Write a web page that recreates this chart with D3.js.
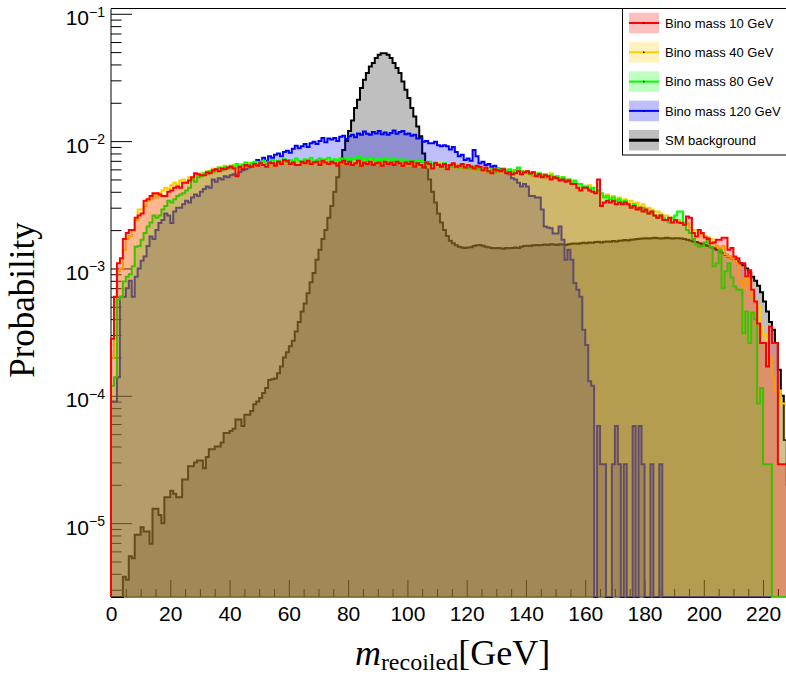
<!DOCTYPE html>
<html>
<head>
<meta charset="utf-8">
<script src="https://cdn.jsdelivr.net/npm/d3@7/dist/d3.min.js"></script>
<style>
  body { margin: 0; background: #fff; }
  svg { display: block; }
</style>
</head>
<body>
<div id="visualization"></div>
<script>
// 1 GeV bins, 0..230 GeV. Probabilities are given in units of 1e-3.
const binLow = 0, binWidth = 1, nBins = 230;

const smBackground = [
  0, 0, 0, 0, 0.0038, 0.0036, 0.0055, 0.0053, 0.0081, 0.0081,
  0.0093, 0.0086, 0.0086, 0.0069, 0.013, 0.013, 0.0116, 0.010, 0.016, 0.016,
  0.018, 0.017, 0.016, 0.016, 0.022, 0.022, 0.028, 0.028, 0.030, 0.031,
  0.031, 0.027, 0.033, 0.038, 0.038, 0.040, 0.040, 0.043, 0.051, 0.051,
  0.053, 0.055, 0.065, 0.065, 0.058, 0.071, 0.071, 0.076, 0.086, 0.090,
  0.096, 0.105, 0.115, 0.133, 0.135, 0.137, 0.15, 0.17, 0.20, 0.22,
  0.245, 0.27, 0.32, 0.38, 0.46, 0.53, 0.64, 0.78, 0.92, 1.17,
  1.4, 1.7, 2.0, 2.5, 3.1, 4.0, 5.2, 6.8, 8.5, 10.0,
  12.0, 14.5, 18.2, 21.1, 26.1, 30.3, 34.2, 38.6, 41.0, 44.9,
  47.7, 49.0, 49.0, 47.7, 44.9, 41.0, 37.5, 34.2, 29.4, 25.3,
  21.8, 18.2, 15.6, 13.0, 10.9, 8.0, 6.2, 5.0, 4.0, 3.3,
  2.7, 2.3, 2.0, 1.8, 1.65, 1.58, 1.52, 1.48, 1.46, 1.45,
  1.46, 1.47, 1.50, 1.52, 1.53, 1.51, 1.48, 1.47, 1.45, 1.44,
  1.45, 1.44, 1.43, 1.45, 1.44, 1.45, 1.46, 1.45, 1.48, 1.50,
  1.51, 1.50, 1.52, 1.53, 1.52, 1.53, 1.54, 1.53, 1.55, 1.54,
  1.53, 1.55, 1.54, 1.53, 1.55, 1.56, 1.57, 1.56, 1.58, 1.59,
  1.58, 1.60, 1.59, 1.61, 1.62, 1.60, 1.62, 1.63, 1.62, 1.64,
  1.63, 1.65, 1.66, 1.67, 1.66, 1.68, 1.69, 1.70, 1.71, 1.72,
  1.73, 1.72, 1.73, 1.74, 1.73, 1.72, 1.73, 1.74, 1.73, 1.72,
  1.73, 1.73, 1.72, 1.70, 1.68, 1.66, 1.63, 1.61, 1.58, 1.56,
  1.53, 1.50, 1.47, 1.44, 1.40, 1.36, 1.32, 1.28, 1.24, 1.20,
  1.17, 1.14, 1.10, 1.06, 1.00, 0.93, 0.86, 0.80, 0.73, 0.65,
  0.55, 0.46, 0.38, 0.33, 0.26, 0.16, 0.10, 0.045, 0.02, 0
];

const bino120 = [
  0.09, 0.09, 0.14, 0.60, 0.60, 0.70, 0.80, 0.60, 0.86, 1.0,
  1.15, 1.24, 1.5, 1.78, 1.7, 2.0, 2.27, 2.4, 2.7, 2.6,
  2.27, 2.8, 3.0, 3.0, 3.2, 3.4, 3.3, 3.6, 3.8, 3.7,
  4.0, 4.2, 4.4, 4.3, 5.0, 4.8, 5.1, 5.0, 5.3, 5.2,
  5.4, 5.5, 5.4, 5.7, 5.9, 6.0, 6.2, 6.4, 6.6, 7.1,
  6.9, 7.4, 7.0, 7.6, 7.4, 7.8, 8.0, 7.6, 8.2, 8.4,
  8.1, 8.7, 9.2, 8.8, 9.1, 9.5, 9.0, 9.6, 9.9, 9.5,
  10.0, 10.6, 9.8, 10.5, 10.3, 10.6, 10.0, 10.8, 11.0, 10.4,
  10.9, 11.2, 10.7, 11.5, 11.2, 11.9, 11.4, 11.2, 11.8, 11.5,
  12.0, 11.3, 11.7, 11.2, 11.6, 12.1, 11.4, 11.8, 12.0, 11.3,
  11.5, 11.0, 11.2, 10.5, 10.6, 9.9, 10.0, 9.6, 9.6, 9.9,
  9.3, 9.1, 9.3, 9.1, 8.6, 9.0, 8.2, 7.6, 7.8, 7.1,
  7.3, 7.0, 8.5, 7.6, 6.7, 6.9, 6.5, 6.6, 6.3, 6.4,
  6.1, 6.0, 5.9, 5.7, 5.5, 5.1, 5.0, 4.7, 4.4, 4.6,
  4.4, 3.7, 3.7, 3.6, 3.6, 2.9, 2.14, 2.1, 2.07, 1.88,
  1.88, 2.14, 1.68, 1.17, 1.4, 1.17, 0.77, 0.68, 0.60, 0.33,
  0.25, 0.13, 0.12, 0, 0.058, 0.029, 0.029, 0, 0, 0.029,
  0.058, 0.029, 0, 0.029, 0, 0, 0.058, 0, 0.058, 0.029,
  0, 0, 0.029, 0, 0, 0.029, 0, 0, 0, 0,
  0, 0, 0, 0, 0, 0, 0, 0, 0, 0,
  0, 0, 0, 0, 0, 0, 0, 0, 0, 0,
  0, 0, 0, 0, 0, 0, 0, 0, 0, 0,
  0, 0, 0, 0, 0, 0, 0, 0, 0, 0
];

const bino80 = [
  0.12, 0.14, 0.57, 0.60, 0.79, 0.86, 0.90, 1.04, 1.48, 1.5,
  1.68, 1.9, 2.14, 2.3, 2.6, 2.5, 2.6, 2.9, 3.1, 3.4,
  3.3, 3.5, 3.7, 3.8, 3.9, 4.1, 4.3, 5.0, 4.8, 5.2,
  5.3, 5.6, 5.5, 5.8, 5.7, 6.0, 6.2, 5.9, 6.3, 6.1,
  6.4, 6.2, 6.6, 6.3, 6.5, 6.8, 6.4, 6.7, 6.9, 6.5,
  6.8, 7.0, 6.6, 6.9, 7.1, 6.7, 7.0, 6.8, 7.2, 6.9,
  7.1, 6.8, 7.3, 7.0, 6.9, 7.2, 7.0, 7.4, 6.9, 7.1,
  7.3, 7.0, 7.2, 7.4, 6.9, 7.2, 7.0, 7.3, 7.1, 7.4,
  7.0, 7.3, 7.2, 7.5, 7.0, 7.3, 7.1, 7.4, 7.2, 7.0,
  7.3, 7.1, 7.4, 7.2, 6.9, 7.3, 7.1, 6.9, 7.2, 6.8,
  7.1, 6.9, 7.0, 6.7, 7.0, 6.8, 6.6, 6.9, 6.5, 6.8,
  6.6, 6.4, 6.7, 6.5, 6.3, 6.6, 6.4, 6.2, 6.5, 6.3,
  6.1, 6.4, 6.2, 6.0, 6.2, 5.9, 6.1, 5.8, 6.0, 5.7,
  6.1, 5.9, 6.1, 5.8, 6.0, 5.7, 5.9, 6.2, 5.8, 5.6,
  5.8, 5.5, 5.7, 5.4, 5.6, 5.3, 5.5, 5.2, 5.4, 5.1,
  5.3, 5.0, 5.2, 4.9, 5.0, 4.7, 4.9, 4.6, 4.6, 4.4,
  4.4, 4.2, 4.3, 4.0, 4.1, 3.9, 3.6, 3.7, 3.5, 3.6,
  3.4, 3.5, 3.3, 3.4, 3.2, 3.1, 3.2, 3.0, 2.9, 3.0,
  2.8, 2.7, 2.8, 2.6, 2.5, 2.6, 2.5, 2.4, 2.3, 2.5,
  2.6, 2.8, 2.8, 2.3, 2.0, 1.9, 1.7, 1.55, 1.48, 1.5,
  1.6, 1.74, 1.48, 1.04, 1.1, 1.4, 0.70, 0.95, 1.1, 0.85,
  0.72, 0.68, 0.68, 0.31, 0.46, 0.26, 0.45, 0.40, 0.087, 0.115,
  0.029, 0.029, 0.029, 0, 0, 0, 0, 0, 0, 0
];

const bino40 = [
  0.20, 0.55, 0.95, 1.0, 1.4, 1.7, 1.8, 2.0, 2.4, 2.9,
  2.9, 3.1, 3.4, 3.5, 3.8, 3.6, 3.9, 4.1, 4.3, 4.2,
  4.5, 4.7, 4.5, 4.9, 5.0, 4.8, 5.2, 5.1, 5.5, 5.4,
  5.6, 5.5, 5.8, 5.7, 6.1, 5.9, 6.2, 6.0, 6.4, 6.1,
  6.3, 6.5, 6.2, 6.4, 6.6, 6.3, 6.7, 6.5, 6.4, 6.8,
  6.6, 6.9, 6.5, 6.7, 6.4, 6.9, 6.6, 6.8, 7.0, 6.6,
  6.9, 6.7, 7.1, 6.5, 6.8, 6.9, 6.6, 7.2, 6.8, 6.7,
  7.0, 6.6, 6.9, 7.1, 6.7, 6.8, 7.3, 6.6, 6.9, 6.7,
  7.0, 6.8, 7.2, 6.6, 6.9, 7.0, 6.7, 7.1, 6.8, 6.6,
  7.2, 6.9, 6.7, 7.0, 6.8, 6.5, 7.1, 6.9, 6.6, 6.8,
  6.4, 6.7, 6.9, 6.3, 6.6, 6.8, 6.5, 6.2, 6.6, 6.4,
  6.7, 6.3, 6.1, 6.5, 6.4, 6.2, 6.6, 6.3, 6.0, 6.4,
  6.1, 6.2, 5.9, 6.3, 6.0, 5.8, 6.1, 5.7, 5.9, 5.6,
  6.0, 5.7, 5.9, 5.8, 5.6, 5.9, 5.7, 6.0, 5.5, 5.8,
  5.6, 5.7, 5.3, 5.6, 5.4, 5.5, 5.1, 5.3, 5.6, 5.2,
  5.3, 5.0, 5.2, 4.9, 5.0, 4.7, 4.8, 4.5, 4.5, 4.3,
  4.4, 4.5, 4.2, 4.3, 4.0, 3.8, 3.7, 3.8, 3.6, 3.7,
  3.5, 3.6, 3.4, 3.5, 3.3, 3.4, 3.2, 3.3, 3.1, 3.2,
  3.0, 3.0, 2.9, 2.8, 2.8, 2.7, 2.6, 2.6, 2.5, 2.5,
  2.4, 2.4, 2.3, 2.2, 2.3, 2.1, 2.0, 2.0, 1.9, 1.85,
  1.8, 1.75, 1.7, 1.6, 1.5, 1.45, 1.5, 1.3, 1.25, 1.2,
  1.15, 1.1, 0.8, 0.7, 0.85, 0.75, 0.6, 0.55, 0.5, 0.35,
  0.30, 0.22, 0.20, 0.14, 0.11, 0.11, 0.087, 0.087, 0.087, 0.087
];

const bino10 = [
  0.28, 0.60, 1.1, 1.2, 1.7, 1.9, 2.0, 2.0, 2.5, 2.6,
  2.7, 3.4, 3.5, 3.7, 3.9, 3.9, 3.8, 3.7, 3.7, 4.0,
  4.1, 4.3, 4.4, 4.3, 4.7, 4.7, 4.9, 5.2, 5.6, 5.5,
  5.4, 5.4, 5.7, 5.6, 5.9, 6.0, 5.8, 6.1, 6.0, 6.2,
  6.3, 6.1, 5.3, 6.3, 6.0, 6.5, 6.4, 6.3, 6.6, 6.4,
  6.7, 6.5, 6.3, 6.8, 6.7, 6.4, 6.9, 6.6, 7.1, 7.0,
  6.6, 6.8, 6.5, 6.5, 6.9, 6.7, 7.0, 6.6, 6.8, 6.9,
  6.5, 7.0, 6.8, 6.6, 6.9, 6.7, 6.4, 6.8, 7.0, 6.6,
  6.9, 6.5, 6.7, 7.0, 6.4, 6.8, 6.6, 6.9, 6.5, 6.7,
  6.8, 6.4, 6.9, 6.6, 6.8, 6.5, 6.9, 6.7, 6.4, 6.8,
  6.6, 6.9, 6.3, 6.7, 6.5, 6.2, 6.8, 6.6, 6.1, 6.7,
  6.5, 6.3, 6.6, 6.0, 6.5, 6.7, 6.3, 6.4, 6.6, 6.2,
  6.5, 6.3, 6.1, 6.4, 6.3, 5.9, 6.2, 5.8, 5.6, 6.0,
  5.9, 5.8, 6.0, 5.6, 5.7, 5.5, 5.6, 5.8, 5.5, 5.7,
  5.8, 5.6, 5.7, 5.3, 5.5, 5.2, 5.4, 5.3, 5.0, 5.2,
  5.1, 4.9, 5.0, 4.8, 4.9, 4.6, 4.6, 4.3, 4.1, 4.3,
  4.3, 4.1, 4.0, 3.9, 5.0, 3.1, 3.3, 3.4, 3.3, 3.4,
  3.2, 3.3, 3.2, 3.3, 3.2, 3.0, 3.1, 2.9, 3.0, 2.8,
  2.9, 2.7, 2.8, 2.6, 2.5, 2.6, 2.4, 2.4, 2.5, 2.3,
  2.4, 2.3, 2.27, 2.2, 2.56, 2.5, 1.9, 1.78, 2.0, 1.9,
  1.75, 1.7, 1.58, 1.6, 1.68, 1.68, 1.74, 1.74, 1.4, 1.45,
  1.24, 1.2, 1.1, 1.1, 0.87, 0.97, 0.68, 0.55, 0.37, 0.26,
  0.26, 0.17, 0.35, 0.26, 0.26, 0.029, 0.029, 0.029, 0.029, 0.029
];

const legendLabels = ["Bino mass 10 GeV", "Bino mass 40 GeV", "Bino mass 80 GeV", "Bino mass 120 GeV", "SM background"];
const xTickLabels = [0, 20, 40, 60, 80, 100, 120, 140, 160, 180, 200, 220];
const yDecades = [1e-5, 1e-4, 1e-3, 1e-2, 1e-1];
const yDecadeExp = ["\u22125", "\u22124", "\u22123", "\u22122", "\u22121"];

const width = 786, height = 675;
const frame = { left: 111, top: 8.5, right: 792.7, bottom: 597 };
const yMin = 2.63e-6, yMax = 0.11;

const svg = d3
  .select("#visualization")
  .append("svg")
  .attr("width", width)
  .attr("height", height);

const x = d3.scaleLinear().domain([0, 230]).range([frame.left, frame.right]);
const y = d3.scaleLog().domain([yMin, yMax]).range([frame.bottom, frame.top]);
const yv = (v) => (v > yMin ? y(v) : frame.bottom);

const sans = "'Liberation Sans', Arial, Helvetica, sans-serif";
const serif = "'Liberation Serif', 'Times New Roman', Times, serif";

// ticks first: the filled histograms are drawn on top of them
const xMinor = d3.range(0, 231, 5).filter((d) => d % 20 !== 0);
svg
  .append("g")
  .attr("transform", `translate(0, ${frame.bottom})`)
  .call(d3.axisBottom(x).tickValues(xMinor).tickSize(-8).tickFormat(""))
  .call((g) => g.select(".domain").remove());

svg
  .append("g")
  .attr("transform", `translate(0, ${frame.bottom})`)
  .call(d3.axisBottom(x).tickValues(xTickLabels).tickSize(-17).tickPadding(9))
  .call((g) => g.select(".domain").remove())
  .call((g) =>
    g.selectAll("text").attr("font-family", sans).attr("font-size", 21).attr("fill", "#000")
  );

const yMinor = [];
[1e-6, 1e-5, 1e-4, 1e-3, 1e-2].forEach((dec) => {
  for (let m = 2; m <= 9; m++) {
    const v = m * dec;
    if (v > yMin && v < yMax) yMinor.push(v);
  }
});
svg
  .append("g")
  .attr("transform", `translate(${frame.left}, 0)`)
  .call(d3.axisLeft(y).tickValues(yMinor).tickSize(-10.5).tickFormat(""))
  .call((g) => g.select(".domain").remove());

svg
  .append("g")
  .attr("transform", `translate(${frame.left}, 0)`)
  .call(d3.axisLeft(y).tickValues(yDecades).tickSize(-21).tickFormat(""))
  .call((g) => g.select(".domain").remove());

svg.selectAll(".tick line").attr("stroke", "#000").attr("stroke-width", 1);

// y labels 10^n
yDecades.forEach((d, i) => {
  const t = svg
    .append("text")
    .attr("x", 105)
    .attr("y", y(d) + 11.4)
    .attr("text-anchor", "end")
    .attr("font-family", sans)
    .attr("fill", "#000");
  t.append("tspan").attr("font-size", 21).text("10");
  t.append("tspan").attr("font-size", 14).attr("dy", -8.5).text(yDecadeExp[i]);
});

// frame
svg
  .append("path")
  .attr("d", `M${frame.right},${frame.top}H${frame.left}V${frame.bottom}H${frame.right}`)
  .attr("fill", "none")
  .attr("stroke", "#000")
  .attr("stroke-width", 1);

// histograms, drawn back to front (alpha 0.25 fills stack up)
const series = [
  { name: "SM background", values: smBackground, color: "#000000" },
  { name: "Bino mass 120 GeV", values: bino120, color: "#0000ff" },
  { name: "Bino mass 40 GeV", values: bino40, color: "#ffcc00" },
  { name: "Bino mass 80 GeV", values: bino80, color: "#00ff00" },
  { name: "Bino mass 10 GeV", values: bino10, color: "#ff0000" },
];

const area = d3
  .area()
  .curve(d3.curveStepAfter)
  .x((d) => x(d[0]))
  .y0(frame.bottom)
  .y1((d) => yv(d[1]));

const line = d3
  .line()
  .curve(d3.curveStepAfter)
  .x((d) => x(d[0]))
  .y((d) => (d[1] === null ? frame.bottom : yv(d[1])));

const plot = svg.append("g");

series.forEach((s) => {
  const vals = s.values.map((v) => v * 1e-3);
  const pts = vals.map((v, i) => [binLow + i * binWidth, v]);
  pts.push([binLow + nBins * binWidth, vals[vals.length - 1]]);

  plot
    .append("path")
    .attr("d", area(pts))
    .attr("fill", s.color)
    .attr("fill-opacity", 0.25)
    .attr("stroke", "none");

  const outline = [[binLow, null], ...pts, [binLow + nBins * binWidth, null]];
  plot
    .append("path")
    .attr("d", line(outline))
    .attr("fill", "none")
    .attr("stroke", s.color)
    .attr("stroke-width", 2)
    .attr("stroke-linejoin", "miter");
});

// legend
const legendColors = ["#ff0000", "#ffcc00", "#00ff00", "#0000ff", "#000000"];
const legend = svg.append("g");
legend
  .append("rect")
  .attr("x", 622.5)
  .attr("y", frame.top)
  .attr("width", 175)
  .attr("height", 146.5)
  .attr("fill", "#fff")
  .attr("stroke", "#000")
  .attr("stroke-width", 1);

legendLabels.forEach((label, i) => {
  const cy = 23 + i * 29.3;
  legend
    .append("rect")
    .attr("x", 629)
    .attr("y", cy - 10.3)
    .attr("width", 30)
    .attr("height", 20.6)
    .attr("fill", legendColors[i])
    .attr("fill-opacity", 0.25);
  legend
    .append("line")
    .attr("x1", 629)
    .attr("x2", 659)
    .attr("y1", cy)
    .attr("y2", cy)
    .attr("stroke", legendColors[i])
    .attr("stroke-width", i === 4 ? 3 : 2);
  if (i < 4) {
    legend
      .append("rect")
      .attr("x", 643)
      .attr("y", cy - 0.75)
      .attr("width", 1.5)
      .attr("height", 1.5)
      .attr("fill", "#000");
  }
  legend
    .append("text")
    .attr("x", 665)
    .attr("y", cy + 4.6)
    .attr("font-family", sans)
    .attr("font-size", 13)
    .attr("fill", "#000")
    .text(label);
});

// axis titles
const xt = svg
  .append("text")
  .attr("x", 452.5)
  .attr("y", 665)
  .attr("text-anchor", "middle")
  .attr("font-family", serif)
  .attr("font-size", 36)
  .attr("fill", "#000");
xt.append("tspan").attr("font-style", "italic").text("m");
xt.append("tspan").attr("font-size", 24).attr("dy", 5).text("recoiled");
xt.append("tspan").attr("dy", -5).text("[GeV]");

svg
  .append("text")
  .attr("transform", "translate(34, 300) rotate(-90)")
  .attr("text-anchor", "middle")
  .attr("font-family", serif)
  .attr("font-size", 35)
  .attr("fill", "#000")
  .text("Probability");
</script>
</body>
</html>
